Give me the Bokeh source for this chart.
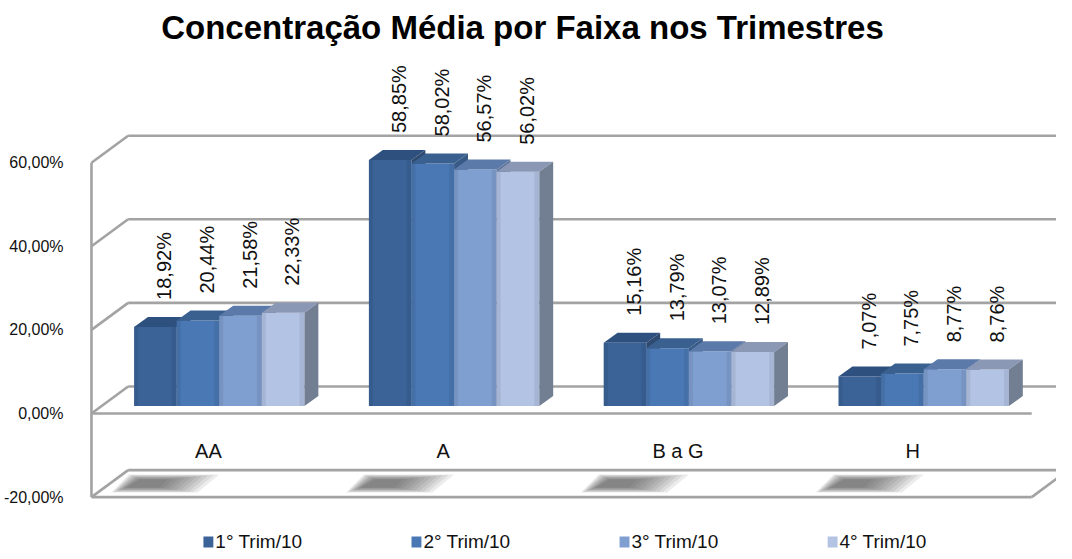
import math
from bokeh.plotting import figure
from bokeh.models import Range1d, FixedTicker, Label, ColumnDataSource
from bokeh.core.properties import value
from bokeh.embed import file_html
from bokeh.resources import INLINE

# ---------------- data ----------------
categories = ["AA", "A", "B a G", "H"]
series = ["1° Trim/10", "2° Trim/10", "3° Trim/10", "4° Trim/10"]
trim1 = [18.92, 58.85, 15.16, 7.07]
trim2 = [20.44, 58.02, 13.79, 7.75]
trim3 = [21.58, 56.57, 13.07, 8.77]
trim4 = [22.33, 56.02, 12.89, 8.76]
y_ticks = [-20, 0, 20, 40, 60]
title_text = "Concentração Média por Faixa nos Trimestres"

values = [trim1, trim2, trim3, trim4]
front_colors = ["#3B6398", "#4A78B4", "#7F9FD0", "#B3C3E3"]
top_colors = ["#2E507F", "#39608F", "#5B7AAA", "#8A97B5"]
side_colors = ["#2E4A70", "#375A86", "#60769C", "#727E92"]
GRID = "#A3A3A3"
FONT = "Liberation Sans"

# ---------------- layout helpers (window px -> data) ----------------
W, H = 1056, 551
CANVAS_TOP = 0          # window y of the canvas top as observed
LEFT_BORDER = 79
XPU = 237.0      # px per category step
XC0 = 219.0      # px of first category centre
YPU = 4.18       # px per percent
Y0 = 413.0       # px of 0 %

def xd(px):
    return (px - XC0) / XPU

def yd(px):
    return (Y0 - px) / YPU

FL = 8 + LEFT_BORDER          # frame left px
p = figure(width=W, height=H, output_backend="svg", toolbar_location=None,
           x_range=Range1d(xd(FL), xd(8 + W)),
           y_range=Range1d(yd(CANVAS_TOP + H), yd(CANVAS_TOP)),
           x_axis_location=None, min_border_left=LEFT_BORDER, min_border_right=0,
           min_border_top=0, min_border_bottom=0)
p.outline_line_color = None
p.xgrid.visible = False
p.ygrid.visible = False
p.background_fill_color = "white"
p.border_fill_color = "white"

# y axis
yax = p.yaxis[0]
yax.ticker = FixedTicker(ticks=y_ticks)
yax.major_label_overrides = {t: ("%.2f" % t).replace(".", ",") + "%" for t in y_ticks}
yax.axis_line_color = None
yax.major_tick_line_color = None
yax.minor_tick_line_color = None
yax.major_label_standoff = 19
yax.major_label_text_font = FONT
yax.major_label_text_font_size = "16px"
yax.major_label_text_color = "#111111"

# ---------------- box walls ----------------
WALL_L = xd(90)
WDX = 37 / XPU
WDY = 27 / YPU
RIGHT = xd(8 + W) + 0.2
FRONT_R = xd(1039)
xs, ys = [], []
for t in y_ticks:
    xs.append([WALL_L, WALL_L + WDX]); ys.append([t, t + WDY])
    xs.append([WALL_L + WDX, RIGHT]); ys.append([t + WDY, t + WDY])
xs.append([WALL_L, WALL_L]); ys.append([y_ticks[0], y_ticks[-1]])
for t in (0, y_ticks[0]):
    xs.append([WALL_L, FRONT_R]); ys.append([t, t])
xs.append([FRONT_R, FRONT_R + WDX]); ys.append([y_ticks[0], y_ticks[0] + WDY])
p.multi_line(xs, ys, line_color=GRID, line_width=2.6)

# ---------------- soft shadows on the lower floor ----------------
BAR_W = 43 / XPU
n = len(series)
outer = [(-23, 492), (-5, 474), (86, 474), (64, 492)]
inner = [(-8, 487), (6, 479), (34, 479), (26, 487)]
steps = 10
for i in range(len(categories)):
    gl = i - (n / 2) * BAR_W
    for s in range(steps):
        f = s / (steps - 1)
        pts = [(o[0] + (q[0] - o[0]) * f, o[1] + (q[1] - o[1]) * f)
               for o, q in zip(outer, inner)]
        p.patch([gl + dx / XPU for dx, _ in pts], [yd(py) for _, py in pts],
                fill_color="#555555", fill_alpha=0.11, line_color=None)

# ---------------- bars ----------------
BASE = yd(405.5)
TDX = 14 / XPU
TDY = 10 / YPU
LABEL_GAP = 27 / YPU
LABEL_DX = 9 / XPU
for j, vals in enumerate(values):
    lefts = [i + (j - n / 2) * BAR_W for i in range(len(categories))]
    rights = [l + BAR_W for l in lefts]
    tops = [BASE + v for v in vals]
    bottoms = [BASE] * len(vals)
    p.quad(left=lefts, right=rights, bottom=bottoms, top=tops,
           fill_color=front_colors[j], line_color=None)
    p.quad(left=lefts, right=[l + 4 / XPU for l in lefts], bottom=bottoms, top=tops,
           fill_color="black", fill_alpha=0.07, line_color=None)
    p.quad(left=[r - 5 / XPU for r in rights], right=rights, bottom=bottoms, top=tops,
           fill_color="black", fill_alpha=0.07, line_color=None)
    top_xs = [[l, r, r + TDX, l + TDX] for l, r in zip(lefts, rights)]
    top_ys = [[t, t, t + TDY, t + TDY] for t in tops]
    p.patches(top_xs, top_ys, fill_color=top_colors[j], line_color=None)
    side_xs = [[r, r + TDX, r + TDX, r] for r in rights]
    side_ys = [[b, b + TDY, t + TDY, t] for b, t in zip(bottoms, tops)]
    p.patches(side_xs, side_ys, fill_color=side_colors[j], line_color=None)
    src = ColumnDataSource(dict(
        x=[l + BAR_W / 2 + LABEL_DX for l in lefts],
        y=[t + LABEL_GAP for t in tops],
        t=[("%.2f" % v).replace(".", ",") + "%" for v in vals]))
    p.text(x="x", y="y", text="t", source=src, angle=math.pi / 2,
           text_align="left", text_baseline="middle",
           text_font=value(FONT), text_font_size="20px", text_color="#111111")

# ---------------- category labels ----------------
csrc = ColumnDataSource(dict(x=[i - 11 / XPU for i in range(len(categories))],
                             y=[yd(450)] * len(categories), t=categories))
p.text(x="x", y="y", text="t", source=csrc, text_align="center",
       text_baseline="middle", text_font=value(FONT), text_font_size="20px",
       text_color="#111111")

# ---------------- title ----------------
p.add_layout(Label(x=xd(525), y=yd(27), text=title_text, text_align="center",
                   text_baseline="alphabetic", text_font=FONT,
                   text_font_size="33px", text_font_style="bold",
                   text_color="#000000"))

# ---------------- legend ----------------
LEG_X0, LEG_STEP, LEG_Y = 203, 210, 541
sq_l = [xd(LEG_X0 + k * LEG_STEP) for k in range(n)]
p.quad(left=sq_l, right=[xd(LEG_X0 + k * LEG_STEP + 10) for k in range(n)],
       bottom=[yd(LEG_Y + 6)] * n, top=[yd(LEG_Y - 5)] * n,
       fill_color=front_colors, line_color=None)
lsrc = ColumnDataSource(dict(x=[xd(LEG_X0 + 12 + k * LEG_STEP) for k in range(n)],
                             y=[yd(LEG_Y)] * n, t=series))
p.text(x="x", y="y", text="t", source=lsrc, text_align="left",
       text_baseline="middle", text_font=value(FONT), text_font_size="19px",
       text_color="#111111")

open("out.html", "w").write(file_html(p, INLINE))
